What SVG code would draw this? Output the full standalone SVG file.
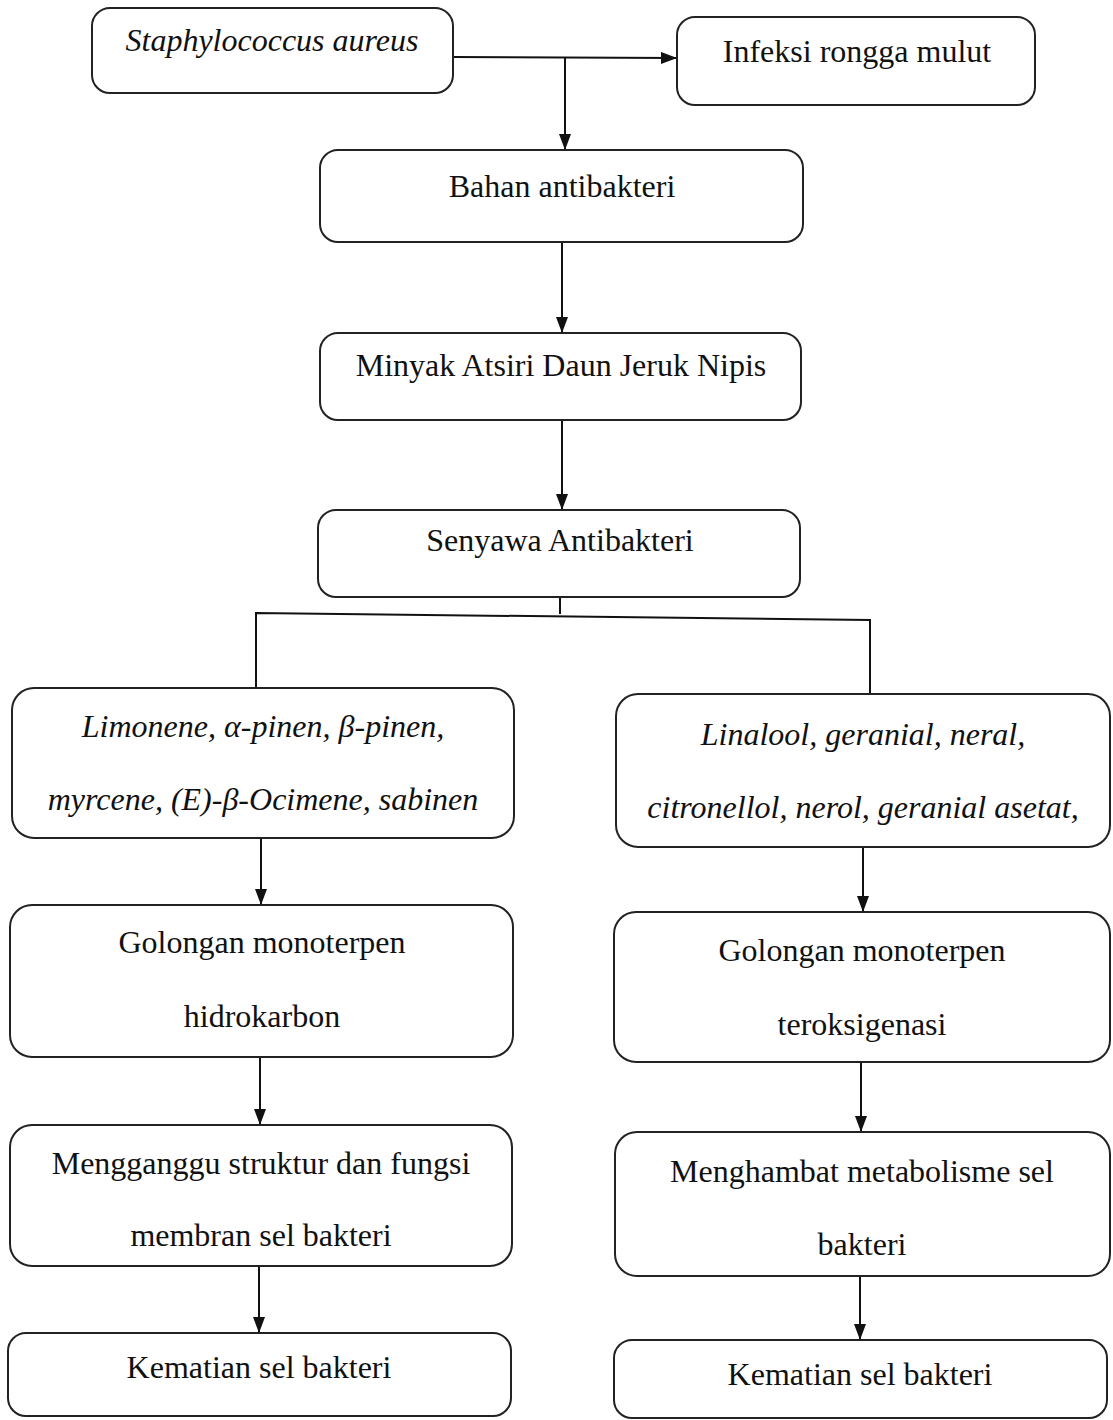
<svg xmlns="http://www.w3.org/2000/svg" width="1113" height="1420" viewBox="0 0 1113 1420">
<style>
.box{fill:#fff;stroke:#222;stroke-width:2}
.t{font-family:"Liberation Serif","Times New Roman",serif;font-size:32px;fill:#111;text-anchor:middle}
.i{font-style:italic}
.c{fill:none;stroke:#111;stroke-width:2}
</style>
<defs>
<marker id="ah" markerWidth="16" markerHeight="12" refX="15" refY="6" orient="auto" markerUnits="userSpaceOnUse">
<path d="M0,0 L16,6 L0,12 Z" fill="#111"/>
</marker>
</defs>
<rect width="1113" height="1420" fill="#fff"/>
<g id="connectors">
<line class="c" x1="453" y1="57" x2="676" y2="58" marker-end="url(#ah)"/>
<line class="c" x1="565" y1="58" x2="565" y2="149" marker-end="url(#ah)"/>
<line class="c" x1="562" y1="242" x2="562" y2="332" marker-end="url(#ah)"/>
<line class="c" x1="562" y1="420" x2="562" y2="509" marker-end="url(#ah)"/>
<polyline class="c" points="560,597 560,614"/>
<polyline class="c" points="256,688 256,613 870,620 870,694"/>
<line class="c" x1="261" y1="838" x2="261" y2="904" marker-end="url(#ah)"/>
<line class="c" x1="863" y1="847" x2="863" y2="911" marker-end="url(#ah)"/>
<line class="c" x1="260" y1="1057" x2="260" y2="1124" marker-end="url(#ah)"/>
<line class="c" x1="861" y1="1062" x2="861" y2="1131" marker-end="url(#ah)"/>
<line class="c" x1="259" y1="1266" x2="259" y2="1332" marker-end="url(#ah)"/>
<line class="c" x1="860" y1="1276" x2="860" y2="1339" marker-end="url(#ah)"/>
</g>
<g id="n1"><rect class="box" x="92" y="8" width="361" height="85" rx="18"/><text class="t i" x="272" y="51">Staphylococcus aureus</text></g>
<g id="n2"><rect class="box" x="677" y="17" width="358" height="88" rx="18"/><text class="t" x="857" y="62">Infeksi rongga mulut</text></g>
<g id="n3"><rect class="box" x="320" y="150" width="483" height="92" rx="18"/><text class="t" x="562" y="197">Bahan antibakteri</text></g>
<g id="n4"><rect class="box" x="320" y="333" width="481" height="87" rx="18"/><text class="t" x="561" y="376">Minyak Atsiri Daun Jeruk Nipis</text></g>
<g id="n5"><rect class="box" x="318" y="510" width="482" height="87" rx="18"/><text class="t" x="560" y="551">Senyawa Antibakteri</text></g>
<g id="n6"><rect class="box" x="12" y="688" width="502" height="150" rx="22"/><text class="t i" x="263" y="737">Limonene, α-pinen, β-pinen,</text><text class="t i" x="263" y="810">myrcene, (E)-β-Ocimene, sabinen</text></g>
<g id="n7"><rect class="box" x="616" y="694" width="494" height="153" rx="22"/><text class="t i" x="863" y="745">Linalool, geranial, neral,</text><text class="t i" x="863" y="818">citronellol, nerol, geranial asetat,</text></g>
<g id="n8"><rect class="box" x="10" y="905" width="503" height="152" rx="22"/><text class="t" x="262" y="953">Golongan monoterpen</text><text class="t" x="262" y="1027">hidrokarbon</text></g>
<g id="n9"><rect class="box" x="614" y="912" width="496" height="150" rx="22"/><text class="t" x="862" y="961">Golongan monoterpen</text><text class="t" x="862" y="1035">teroksigenasi</text></g>
<g id="n10"><rect class="box" x="10" y="1125" width="502" height="141" rx="22"/><text class="t" x="261" y="1174">Mengganggu struktur dan fungsi</text><text class="t" x="261" y="1246">membran sel bakteri</text></g>
<g id="n11"><rect class="box" x="615" y="1132" width="495" height="144" rx="22"/><text class="t" x="862" y="1182">Menghambat metabolisme sel</text><text class="t" x="862" y="1255">bakteri</text></g>
<g id="n12"><rect class="box" x="8" y="1333" width="503" height="83" rx="18"/><text class="t" x="259" y="1378">Kematian sel bakteri</text></g>
<g id="n13"><rect class="box" x="614" y="1340" width="493" height="78" rx="18"/><text class="t" x="860" y="1385">Kematian sel bakteri</text></g>
</svg>
